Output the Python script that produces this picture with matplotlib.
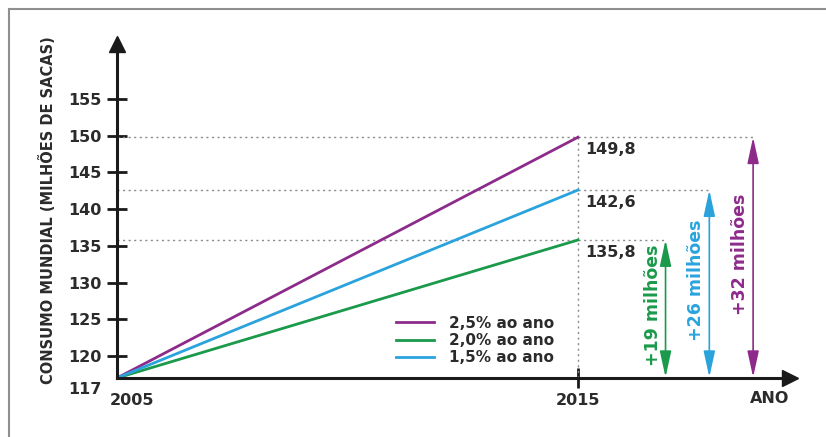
import matplotlib.pyplot as plt
from matplotlib.lines import Line2D
import matplotlib.transforms as mtransforms

# data
anos = [2005, 2015]
series_labels = ["2,5% ao ano", "2,0% ao ano", "1,5% ao ano"]
valor_inicial = 117
series_finais = [149.8, 135.8, 142.6]
cores = ["#8d2b8b", "#1a9a4a", "#2aa3dd"]
incrementos = ["+32 milhões", "+19 milhões", "+26 milhões"]
x_setas = [2018.8, 2016.9, 2017.85]
y_ticks = [120, 125, 130, 135, 140, 145, 150, 155]

texto = "#2b2b2b"

fig = plt.figure(figsize=(8.26, 4.37), dpi=100)
ax = fig.add_axes([117 / 826, (437 - 378) / 437, 673 / 826, 334 / 437])
ax.set_xlim(2005, 2019.6)
ax.set_ylim(117, 162.5)

for s in ["top", "right"]:
    ax.spines[s].set_visible(False)
for s in ["left", "bottom"]:
    ax.spines[s].set_linewidth(2.2)
    ax.spines[s].set_color("#1a1a1a")

# axis arrowheads
ax.plot(1, 0, ">", color="#1a1a1a", ms=12, transform=ax.transAxes, clip_on=False)
ax.plot(0, 1, "^", color="#1a1a1a", ms=12, transform=ax.transAxes, clip_on=False)

# y ticks
ax.set_yticks([valor_inicial] + y_ticks)
ax.set_yticklabels([str(v) for v in [valor_inicial] + y_ticks])
ax.tick_params(axis="y", direction="inout", length=14, width=2, colors="#1a1a1a", pad=4)
for lab in ax.get_yticklabels():
    lab.set_fontweight("bold")
    lab.set_fontsize(11.5)
    lab.set_color(texto)
ax.yaxis.get_major_ticks()[0].tick1line.set_visible(False)
lab117 = ax.get_yticklabels()[0]
lab117.set_transform(lab117.get_transform() + mtransforms.ScaledTranslation(0, -10 / 100, fig.dpi_scale_trans))

# x ticks
ax.set_xticks(anos)
ax.set_xticklabels([str(a) for a in anos])
ax.tick_params(axis="x", direction="inout", length=14, width=2, colors="#1a1a1a", pad=4)
for lab in ax.get_xticklabels():
    lab.set_fontweight("bold")
    lab.set_fontsize(11.5)
    lab.set_color(texto)
ax.xaxis.get_major_ticks()[0].tick1line.set_visible(False)
lab05 = ax.get_xticklabels()[0]
lab05.set_transform(lab05.get_transform() + mtransforms.ScaledTranslation(15 / 100, 0, fig.dpi_scale_trans))

ax.text(2019.15, valor_inicial, "ANO", fontsize=11.5, fontweight="bold", color=texto,
        ha="center", va="top",
        transform=ax.transData + mtransforms.ScaledTranslation(0, -13 / 100, fig.dpi_scale_trans))

fig.text(48 / 826, 1 - 210 / 437, "CONSUMO MUNDIAL (MILHÕES DE SACAS)", rotation=90,
         fontsize=10.5, fontweight="bold", color=texto, ha="center", va="center")

# guide lines
dotted = dict(color="#8a8a8a", lw=1, linestyle=(0, (1.5, 2.5)))
ax.plot([anos[1], anos[1]], [valor_inicial, max(series_finais)], **dotted)
for v, xs in zip(series_finais, x_setas):
    ax.plot([anos[0], xs], [v, v], **dotted)

# series
for lbl, v, c in zip(series_labels, series_finais, cores):
    ax.plot(anos, [valor_inicial, v], color=c, lw=2, label=lbl)
    ax.text(anos[1], v, str(v).replace(".", ","), fontsize=11.5, fontweight="bold", color=texto,
            ha="left", va="top",
            transform=ax.transData + mtransforms.ScaledTranslation(7 / 100, -5 / 100, fig.dpi_scale_trans))

# increment arrows
for v, xs, c, t in zip(series_finais, x_setas, cores, incrementos):
    ax.annotate("", xy=(xs, v), xytext=(xs, valor_inicial + 0.1),
                arrowprops=dict(arrowstyle="<|-|>,head_length=1.6,head_width=0.35", color=c, lw=1.2,
                                shrinkA=0, shrinkB=0))
    ax.text(xs, (valor_inicial + v) / 2 + 0.5, t, rotation=90, fontsize=12.5, fontweight="bold", color=c,
            ha="right", va="center",
            transform=ax.transData + mtransforms.ScaledTranslation(-4 / 100, 0, fig.dpi_scale_trans))

leg = ax.legend(loc="upper left", bbox_to_anchor=((388 - 117) / 673, (378 - 308) / 334), frameon=False,
                fontsize=11, handlelength=2.5, handletextpad=1.0, labelspacing=0.15, borderpad=0)
for t in leg.get_texts():
    t.set_fontweight("bold")
    t.set_color(texto)

# frame of the figure (top and left only)
fig.add_artist(Line2D([9 / 826, 9 / 826], [0, 1 - 9 / 437], color="#8f8f8f", lw=1.5))
fig.add_artist(Line2D([9 / 826, 1], [1 - 9 / 437, 1 - 9 / 437], color="#8f8f8f", lw=1.5))

fig.savefig("out.png", dpi=100)
